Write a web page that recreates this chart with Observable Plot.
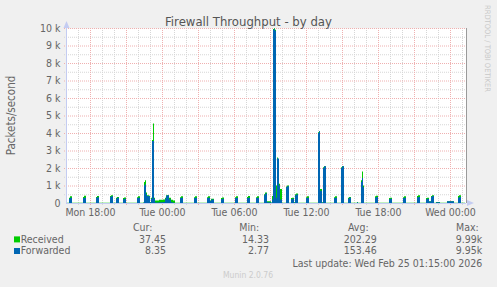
<!DOCTYPE html>
<html><head><meta charset="utf-8">
<script src="https://cdn.jsdelivr.net/npm/d3@7"></script>
<script src="https://cdn.jsdelivr.net/npm/@observablehq/plot@0.6"></script>
<style>
html,body{margin:0;padding:0;background:#f0f0f0;overflow:hidden;}
#chart{width:497px;height:287px;}
</style></head><body><div id="chart"></div>
<script>
const FONT = '"DejaVu Sans Condensed","DejaVu Sans",sans-serif';
// sample times (day of Feb 2026 + UTC time), packets/second
const times = [
"23T16:00","23T16:10","23T16:15","23T16:20","23T16:30","23T17:20","23T17:25","23T17:30","23T17:40","23T18:25",
"23T18:30","23T18:35","23T18:45","23T19:35","23T19:40","23T19:45","23T19:55","23T20:05","23T20:10","23T20:15",
"23T20:25","23T20:40","23T20:45","23T20:50","23T21:00","23T21:50","23T21:55","23T22:00","23T22:10","23T22:25",
"23T22:30","23T22:35","23T22:40","23T22:45","23T22:55","23T23:00","23T23:05","23T23:10","23T23:15","23T23:20",
"23T23:25","23T23:45","24T00:05","24T00:15","24T00:20","24T00:25","24T00:35","24T00:45","24T00:55","24T01:05",
"24T01:25","24T01:30","24T01:35","24T01:45","24T02:35","24T02:40","24T02:45","24T02:55","24T03:40","24T03:45",
"24T03:50","24T04:00","24T04:05","24T04:10","24T04:20","24T04:50","24T04:55","24T05:00","24T05:10","24T06:00",
"24T06:05","24T06:10","24T06:20","24T07:00","24T07:05","24T07:10","24T07:20","24T07:45","24T07:50","24T07:55",
"24T08:05","24T08:25","24T08:30","24T08:35","24T08:45","24T09:05","24T09:10","24T09:15","24T09:20","24T09:25",
"24T09:30","24T09:35","24T09:40","24T09:45","24T09:50","24T10:00","24T10:15","24T10:20","24T10:25","24T10:35",
"24T10:40","24T10:45","24T10:50","24T11:00","24T11:05","24T11:10","24T11:20","24T11:55","24T12:00","24T12:05",
"24T12:15","24T12:55","24T13:00","24T13:05","24T13:10","24T13:20","24T13:25","24T13:30","24T13:40","24T14:15",
"24T14:20","24T14:25","24T14:35","24T14:50","24T14:55","24T15:00","24T15:10","24T15:25","24T15:30","24T15:35",
"24T15:45","24T16:10","24T16:15","24T16:20","24T16:30","24T16:35","24T16:40","24T16:45","24T16:50","24T17:40",
"24T17:45","24T17:50","24T18:00","24T18:50","24T18:55","24T19:00","24T19:10","24T20:00","24T20:05","24T20:10",
"24T20:20","24T21:10","24T21:15","24T21:20","24T21:30","24T21:55","24T22:00","24T22:05","24T22:15","24T22:25",
"24T22:30","24T22:40","24T22:50","24T23:00","24T23:10","24T23:40","24T23:45","25T00:15","25T00:20","25T00:35",
"25T00:40","25T00:45","25T00:55","25T01:15"
];
const received = [
20,20,300,380,20,20,350,420,20,20,
350,400,20,20,400,450,20,20,300,350,
20,20,280,320,20,20,330,380,20,30,
1200,1300,600,450,420,60,300,3600,4550,300,
150,180,200,300,450,450,300,180,150,20,
20,330,380,20,20,330,380,20,20,330,
380,150,250,250,20,20,280,320,20,20,
330,380,20,20,350,400,20,20,330,380,
20,20,500,600,100,30,400,9950,9990,9900,
1000,2600,1000,1100,800,20,20,950,1000,20,
20,280,300,50,500,550,20,20,330,380,
20,20,4050,4100,800,50,2050,2100,20,20,
330,380,20,20,2050,2100,20,20,300,350,
20,20,60,20,20,1300,1800,1000,20,20,
380,420,20,20,280,300,20,20,330,380,
20,20,400,450,20,20,280,300,100,400,
450,20,60,60,20,20,100,100,20,20,
400,450,20,37.45
];
const forwarded = [
5,5,250,300,5,5,280,300,5,5,
300,330,5,5,350,380,5,5,250,300,
5,5,220,250,5,5,280,300,5,10,
1000,1070,500,400,380,30,250,3550,3550,250,
30,40,60,250,420,440,200,40,20,5,
5,280,300,5,5,280,300,5,5,280,
300,120,200,200,5,5,220,250,5,5,
280,300,5,5,280,300,5,5,280,300,
5,5,450,550,50,10,200,9900,9950,9850,
300,2550,2550,1000,200,5,5,900,960,5,
5,220,250,20,450,480,5,5,280,300,
5,5,4000,4100,700,20,2000,2100,5,5,
280,300,5,5,2000,2100,5,5,250,300,
5,5,50,5,5,1200,1430,900,5,5,
300,350,5,5,220,250,5,5,280,300,
5,5,320,350,5,5,220,250,80,350,
400,5,50,50,5,5,100,100,5,5,
300,350,5,8.35
];
const domainStart = "23T16:00", domainEnd = "25T01:20";
const xTickTimes = ["23T18:00","24T00:00","24T06:00","24T12:00","24T18:00","25T00:00"];
const xTickLabels = ["Mon 18:00","Tue 00:00","Tue 06:00","Tue 12:00","Tue 18:00","Wed 00:00"];
const yTicks = [0,1000,2000,3000,4000,5000,6000,7000,8000,9000,10000];
const yTickLabels = ["0","1 k","2 k","3 k","4 k","5 k","6 k","7 k","8 k","9 k","10 k"];
const seriesNames = ["Received","Forwarded"];
const seriesColors = ["#00cc00","#0066b3"];
const curValues = ["37.45","8.35"];
const minValues = ["14.33","2.77"];
const avgValues = ["202.29","153.46"];
const maxValues = ["9.99k","9.95k"];
const title = "Firewall Throughput - by day";
const yLabel = "Packets/second";
const lastUpdate = "Last update: Wed Feb 25 01:15:00 2026";
const footer = "Munin 2.0.76";
const sideText = "RRDTOOL / TOBI OETIKER";

const parse = s => new Date(`2026-02-${s}:00Z`);
const data = times.map((s, i) => ({t: parse(s), recv: received[i], fwd: forwarded[i]}));
const x0 = parse(domainStart), x1 = parse(domainEnd);
const hours = d3.utcHour.range(d3.utcMinute.offset(x0, 1), x1);
const minorX = hours.filter(d => d.getUTCHours() % 3 !== 0);
const majorX = hours.filter(d => d.getUTCHours() % 3 === 0);
const minorY = d3.range(500, 10000, 1000);
const majorY = d3.range(1000, 10001, 1000);
const tickDates = xTickTimes.map(parse);
const GRID = "#d6d6d6", MGRID = "#efb0b0", AXIS = "#c4ccf2";

const svg = Plot.plot({
  width: 497, height: 287,
  marginLeft: 66, marginRight: 31, marginTop: 28, marginBottom: 84,
  style: {background: "#f0f0f0", fontFamily: FONT, fontSize: "10.5px", color: "#666", overflow: "visible"},
  x: {type: "utc", domain: [x0, x1], label: null},
  y: {domain: [0, 10000], label: null},
  marks: [
    Plot.frame({fill: "white", stroke: "none"}),
    Plot.ruleX(minorX, {stroke: GRID, strokeDasharray: "1,1", insetBottom: -2}),
    Plot.ruleY(minorY, {stroke: GRID, strokeDasharray: "1,1", insetLeft: -2}),
    Plot.ruleX(majorX, {stroke: MGRID, strokeDasharray: "1,1", insetBottom: -2}),
    Plot.ruleY(majorY, {stroke: MGRID, strokeDasharray: "1,1", insetLeft: -2}),
    Plot.areaY(data, {x: "t", y: "recv", fill: seriesColors[0], curve: "step-after"}),
    Plot.areaY(data, {x: "t", y: "fwd", fill: seriesColors[1], curve: "step-after"}),
    Plot.ruleX([x1], {stroke: "#9a9a9a"}),
    Plot.ruleY([0], {stroke: AXIS}),
    Plot.ruleX([x0], {stroke: AXIS, insetTop: -5}),
    Plot.axisX(tickDates, {tickSize: 0, tickPadding: 5, fill: "#666", label: null,
      tickFormat: d => xTickLabels[tickDates.findIndex(t => +t === +d)]}),
    Plot.axisY(yTicks, {tickSize: 0, tickPadding: 6, fill: "#666", label: null,
      tickFormat: d => yTickLabels[yTicks.indexOf(d)]})
  ]
});
document.getElementById("chart").appendChild(svg);

const s = d3.select(svg);
const txt = (x, y, str, o = {}) => s.append("text").attr("x", x).attr("y", y)
  .attr("font-family", FONT).attr("font-size", o.size || "10.5px")
  .attr("fill", o.fill || "#666").attr("text-anchor", o.anchor || "start").text(str);
// axis arrows
s.append("path").attr("d", "M63.5,28 L66.5,21 L69.5,28 Z").attr("fill", AXIS);
s.append("path").attr("d", "M467,200 L474,203 L467,206 Z").attr("fill", AXIS);
// title & labels
txt(248.5, 25.5, title, {size: "13px", fill: "#555", anchor: "middle"});
s.append("text").attr("transform", "translate(15,115.5) rotate(-90)")
  .attr("font-family", FONT).attr("font-size", "11.5px").attr("fill", "#666")
  .attr("text-anchor", "middle").text(yLabel);
s.append("text").attr("transform", "translate(485,5) rotate(90)")
  .attr("font-family", FONT).attr("font-size", "7.5px").attr("fill", "#c8c8c8")
  .attr("text-anchor", "start").text(sideText);
// legend
txt(133, 230.7, "Cur:"); txt(239.3, 230.7, "Min:"); txt(348, 230.7, "Avg:"); txt(456, 230.7, "Max:");
const rowsY = [242.7, 254.3];
seriesNames.forEach((n, i) => {
  s.append("rect").attr("x", 14).attr("y", rowsY[i] - 6.3).attr("width", 6).attr("height", 6).attr("fill", seriesColors[i]);
  txt(20.7, rowsY[i], n);
  txt(166, rowsY[i], curValues[i], {anchor: "end"});
  txt(269, rowsY[i], minValues[i], {anchor: "end"});
  txt(376.7, rowsY[i], avgValues[i], {anchor: "end"});
  txt(482.3, rowsY[i], maxValues[i], {anchor: "end"});
});
txt(482.3, 266.7, lastUpdate, {anchor: "end"});
txt(248, 278, footer, {size: "8.5px", fill: "#cccccc", anchor: "middle"});
</script></body></html>
